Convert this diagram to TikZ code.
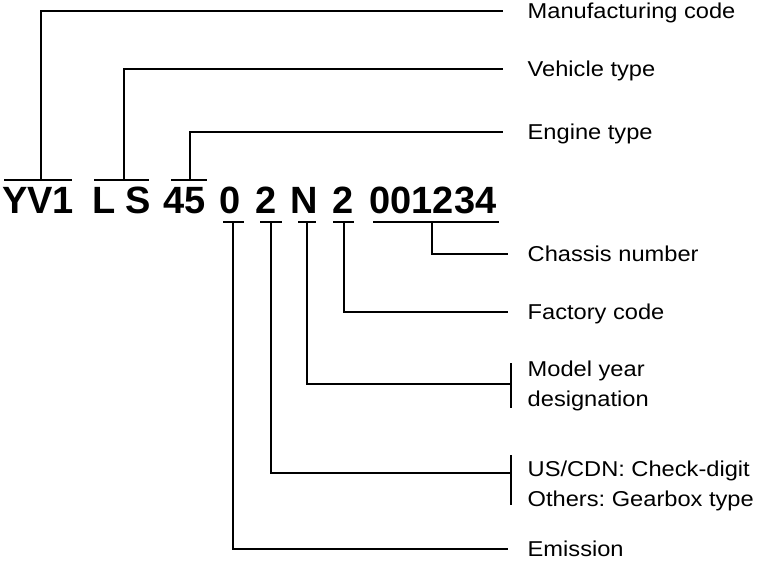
\documentclass[tikz,border=0pt]{standalone}
\usepackage{fontspec}
\setmainfont{Liberation Sans}
\newfontfamily\lblfont[FakeStretch=1.1]{Liberation Sans}
\newfontfamily\codefont{Liberation Sans}
\frenchspacing

\begin{document}
\begin{tikzpicture}[x=1pt,y=-1pt,line width=1.4pt,
    code/.style={anchor=base,inner sep=0pt,
      font=\codefont\bfseries\fontsize{38}{38}\selectfont},
    lbl/.style={anchor=west,inner sep=0pt,text height=15pt,text depth=0pt,
      font=\lblfont\fontsize{21.5}{30}\selectfont},
    lbltwo/.style={anchor=west,inner sep=0pt,align=left,
      font=\lblfont\fontsize{21.5}{30}\selectfont}]
  \useasboundingbox (0,0) rectangle (765,566);

  % the code itself
  \node[code] (yv) at (38,213) {YV1};
  \node[code] (vl) at (104,213) {L};
  \node[code] (vs) at (138.5,213) {S};
  \node[code] (en) at (184.5,213) {45};
  \node[code] (em) at (230.5,213) {0};
  \node[code] (cd) at (266.5,213) {2};
  \node[code] (my) at (304.5,213) {N};
  \node[code] (fc) at (343.5,213) {2};
  \node[code] (ch) at (433,213) {001234};

  % the labels
  \node[lbl] (mfg) at (527,11) {Manufacturing code};
  \node[lbl] (veh) at (527,69) {Vehicle type};
  \node[lbl] (eng) at (527,132) {Engine type};
  \node[lbl] (chs) at (527,254) {Chassis number};
  \node[lbl] (fac) at (527,312) {Factory code};
  \node[lbltwo] (mod) at (527,386) {Model year\\designation};
  \node[lbltwo] (chk) at (527,486) {US/CDN: Check-digit\\Others: Gearbox type};
  \node[lbl] (ems) at (527,549) {Emission};

  % bars over and under the code
  \draw (4,180) -- (72,180);
  \draw (94,180) -- (149,180);
  \draw (171,180) -- (207,180);
  \draw (223,222) -- (244,222);
  \draw (260,222) -- (282,222);
  \draw (298,222) -- (316,222);
  \draw (333,222) -- (354,222);
  \draw (373,222) -- (499,222);

  \coordinate (yvtick) at (41,180);
  \coordinate (vtick) at (124,180);
  \coordinate (entick) at (190,180);
  \coordinate (emtick) at (233,222);
  \coordinate (cdtick) at (271,222);
  \coordinate (mytick) at (307,222);
  \coordinate (fctick) at (344,222);
  \coordinate (chtick) at (432,222);

  % brackets in front of the two-line labels
  \draw ([xshift=-16pt]mod.west |- 0,363) -- ([xshift=-16pt]mod.west |- 0,408);
  \draw ([xshift=-16pt]chk.west |- 0,455) -- ([xshift=-16pt]chk.west |- 0,505);

  % connectors
  \draw (yvtick) |- ([xshift=-24pt]mfg.west);
  \draw (vtick) |- ([xshift=-24pt]veh.west);
  \draw (entick) |- ([xshift=-24pt]eng.west);
  \draw (chtick) |- ([xshift=-19pt]chs.west);
  \draw (fctick) |- ([xshift=-19pt]fac.west);
  \draw (mytick) |- ([xshift=-16pt]mod.west |- 0,384);
  \draw (cdtick) |- ([xshift=-16pt]chk.west |- 0,473);
  \draw (emtick) |- ([xshift=-19pt]ems.west);
\end{tikzpicture}
\end{document}
